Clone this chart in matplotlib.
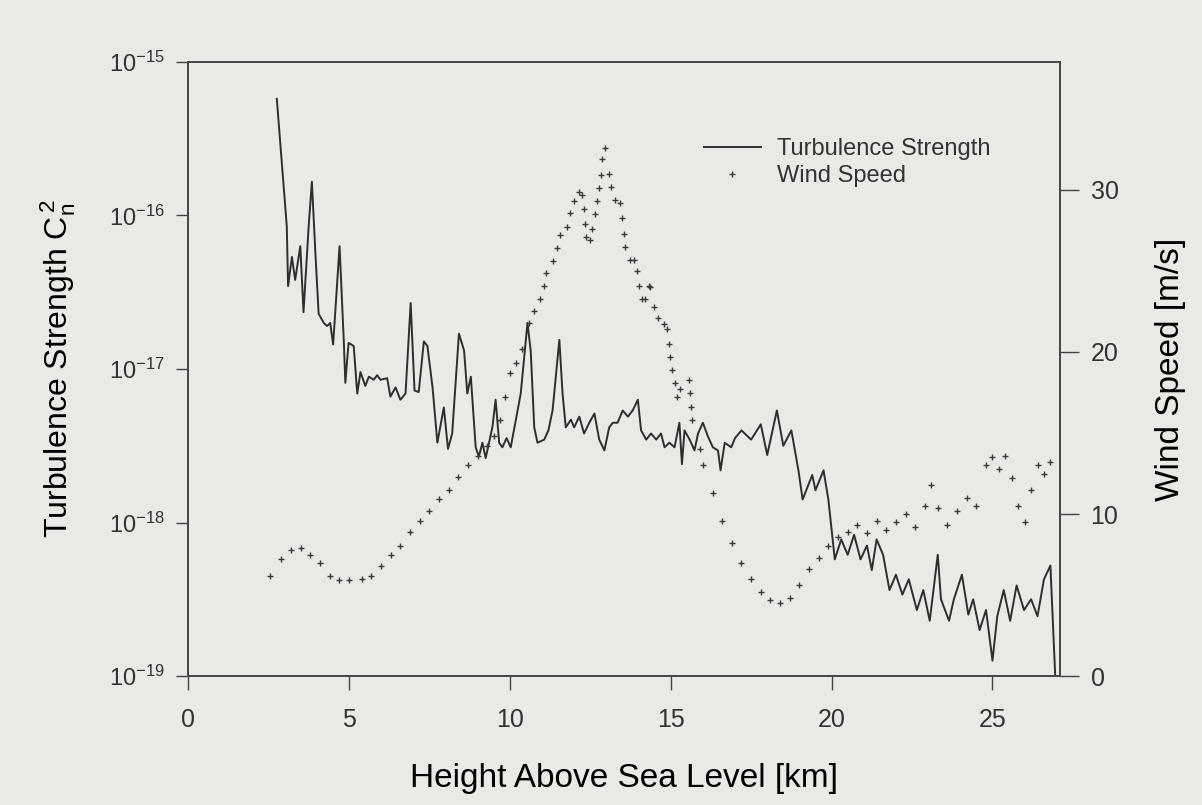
import matplotlib
matplotlib.use("Agg")
import matplotlib.pyplot as plt
import numpy as np

plt.rcParams.update({
    "font.family": ["Liberation Sans", "DejaVu Sans"],
    "mathtext.fontset": "custom",
    "mathtext.rm": "Liberation Sans",
    "mathtext.it": "Liberation Sans:italic",
    "text.color": "#333333",
    "axes.edgecolor": "#444444",
    "xtick.color": "#444444",
    "ytick.color": "#444444",
    "xtick.labelcolor": "#333333",
    "ytick.labelcolor": "#333333",
})

# turbulence profile: height [km] and log10(Cn^2)
turb_km = [2.76, 3.07, 3.11, 3.23, 3.33, 3.49, 3.59, 3.75, 3.85, 3.96, 4.06, 4.22, 4.32, 4.42,
           4.51, 4.71, 4.84, 4.89, 4.99, 5.15, 5.26, 5.36, 5.51, 5.62, 5.77, 5.88, 5.98, 6.19,
           6.29, 6.45, 6.6, 6.76, 6.92, 7.04, 7.17, 7.33, 7.44, 7.6, 7.75, 7.95, 8.08, 8.21,
           8.42, 8.58, 8.68, 8.79, 8.94, 9.04, 9.15, 9.25, 9.46, 9.56, 9.67, 9.77, 9.9, 10.03,
           10.19, 10.34, 10.55, 10.65, 10.76, 10.86, 11.07, 11.2, 11.33, 11.54, 11.64, 11.74,
           11.9, 12.0, 12.16, 12.31, 12.47, 12.63, 12.78, 12.94, 13.09, 13.2, 13.35, 13.51,
           13.67, 13.82, 13.98, 14.08, 14.24, 14.39, 14.55, 14.7, 14.81, 14.96, 15.12, 15.27,
           15.35, 15.43, 15.59, 15.74, 15.85, 16.0, 16.16, 16.31, 16.47, 16.55, 16.68, 16.88,
           17.0, 17.2, 17.5, 17.8, 18.0, 18.3, 18.5, 18.75, 18.97, 19.1, 19.4, 19.5, 19.75,
           19.9, 20.1, 20.3, 20.5, 20.7, 20.9, 21.1, 21.25, 21.4, 21.6, 21.8, 22.0, 22.2, 22.4,
           22.65, 22.85, 23.05, 23.3, 23.4, 23.65, 23.8, 24.05, 24.25, 24.4, 24.6, 24.8, 25.0,
           25.15, 25.35, 25.55, 25.75, 25.98, 26.2, 26.4, 26.6, 26.8, 26.95]
turb_log = [-15.24, -16.07, -16.46, -16.27, -16.42, -16.20, -16.63, -16.07, -15.78, -16.25,
            -16.64, -16.70, -16.72, -16.70, -16.84, -16.20, -16.81, -17.09, -16.83, -16.85,
            -17.16, -17.02, -17.11, -17.05, -17.07, -17.04, -17.07, -17.06, -17.18, -17.12,
            -17.2, -17.16, -16.57, -17.14, -17.15, -16.82, -16.85, -17.12, -17.48, -17.25,
            -17.52, -17.42, -16.77, -16.88, -17.16, -17.05, -17.51, -17.57, -17.48, -17.58,
            -17.38, -17.20, -17.48, -17.51, -17.45, -17.51, -17.33, -17.16, -16.70, -16.88,
            -17.38, -17.48, -17.46, -17.40, -17.27, -16.81, -17.16, -17.38, -17.33, -17.38,
            -17.31, -17.42, -17.35, -17.29, -17.46, -17.53, -17.38, -17.35, -17.35, -17.27,
            -17.31, -17.27, -17.20, -17.40, -17.46, -17.42, -17.46, -17.42, -17.51, -17.48,
            -17.51, -17.35, -17.62, -17.40, -17.46, -17.53, -17.42, -17.35, -17.44, -17.51,
            -17.53, -17.66, -17.48, -17.51, -17.45, -17.40, -17.46, -17.36, -17.56, -17.27,
            -17.50, -17.40, -17.66, -17.85, -17.69, -17.79, -17.66, -17.85, -18.24, -18.11,
            -18.21, -18.08, -18.24, -18.15, -18.31, -18.11, -18.21, -18.44, -18.34, -18.47,
            -18.37, -18.57, -18.44, -18.64, -18.21, -18.50, -18.64, -18.50, -18.34, -18.60,
            -18.50, -18.70, -18.57, -18.90, -18.61, -18.44, -18.64, -18.41, -18.57, -18.50,
            -18.61, -18.37, -18.28, -19.0]

# wind speed profile: height [km] and speed [m/s]
wind_km = [2.55, 2.9, 3.2, 3.5, 3.8, 4.1, 4.4, 4.7, 5.0, 5.4, 5.7, 6.0, 6.3, 6.6, 6.9, 7.2,
           7.5, 7.8, 8.1, 8.4, 8.7, 9.0, 9.3, 9.5, 9.7, 9.85, 10.02, 10.2, 10.38, 10.59,
           10.75, 10.95, 11.06, 11.11, 11.33, 11.47, 11.57, 11.78, 11.88, 11.99, 12.14,
           12.23, 12.3, 12.35, 12.37, 12.5, 12.56, 12.64, 12.71, 12.76, 12.82, 12.87, 12.95,
           13.07, 13.13, 13.28, 13.44, 13.49, 13.54, 13.59, 13.75, 13.85, 13.95, 14.03,
           14.11, 14.21, 14.32, 14.37, 14.47, 14.61, 14.78, 14.89, 14.94, 14.99, 15.04,
           15.12, 15.2, 15.3, 15.56, 15.61, 15.63, 15.66, 15.9, 16.0, 16.3, 16.6, 16.9,
           17.2, 17.5, 17.8, 18.1, 18.4, 18.7, 19.0, 19.3, 19.6, 19.9, 20.2, 20.5, 20.8,
           21.1, 21.4, 21.7, 22.0, 22.3, 22.6, 22.9, 23.1, 23.3, 23.6, 23.9, 24.2, 24.5,
           24.8, 25.0, 25.2, 25.4, 25.6, 25.8, 26.0, 26.2, 26.4, 26.6, 26.8]
wind_ms = [6.2, 7.2, 7.8, 7.9, 7.5, 7.0, 6.2, 5.9, 5.9, 6.0, 6.2, 6.8, 7.5, 8.0, 8.9, 9.6,
           10.2, 10.9, 11.5, 12.3, 13.0, 13.6, 14.2, 14.8, 15.8, 17.2, 18.7, 19.3, 20.2, 21.8,
           22.5, 23.3, 24.1, 24.9, 25.6, 26.4, 27.2, 27.7, 28.6, 29.3, 29.9, 29.7, 28.8, 27.9,
           27.1, 26.9, 27.6, 28.5, 29.3, 30.1, 30.9, 31.9, 32.6, 31.0, 30.2, 29.4, 29.2, 28.3,
           27.3, 26.5, 25.7, 25.7, 25.0, 24.1, 23.3, 23.3, 24.1, 24.0, 22.8, 22.1, 21.7, 21.4,
           20.5, 19.7, 18.9, 18.1, 17.2, 17.7, 18.3, 17.5, 16.6, 15.8, 14.0, 13.0, 11.3, 9.6,
           8.2, 7.0, 6.0, 5.2, 4.7, 4.5, 4.8, 5.6, 6.6, 7.3, 8.0, 8.6, 8.9, 9.3, 8.8, 9.6,
           9.0, 9.5, 10.0, 9.2, 10.5, 11.8, 10.4, 9.3, 10.2, 11.0, 10.5, 13.0, 13.5, 12.8,
           13.6, 12.2, 10.5, 9.5, 11.5, 13.0, 12.5, 13.2]

bg = "#ebe9e6"
fig = plt.figure(figsize=(12.02, 8.05), dpi=100, facecolor=bg)
ax = fig.add_axes([0.1564, 0.1602, 0.7255, 0.7628])
ax.set_facecolor(bg)

turb = np.power(10.0, np.array(turb_log))
ln1, = ax.plot(turb_km, turb, color="#2e2e2e", lw=1.4, label="Turbulence Strength")
ax.set_yscale("log")
ax.set_ylim(1e-19, 1e-15)
ax.set_xlim(0, 27.1)
ax.set_xticks([0, 5, 10, 15, 20, 25])
ax.set_yticks([1e-19, 1e-18, 1e-17, 1e-16, 1e-15])
ax.minorticks_off()
ax.tick_params(axis="y", direction="out", length=9, width=1, labelsize=17, pad=8)
ax.tick_params(axis="x", direction="out", length=10, width=1, labelsize=18, pad=13)
ax.tick_params(top=False)
ax.set_xlabel("Height Above Sea Level [km]", fontsize=24, labelpad=22)
ax.set_ylabel(r"Turbulence Strength $\mathregular{C_n^{\,2}}$", fontsize=23, labelpad=22)

ax2 = ax.twinx()
ln2, = ax2.plot(wind_km, wind_ms, linestyle="none", marker="+", ms=4, mew=1.0,
                color="#3a3a3a", label="Wind Speed")
ax2.set_ylim(0, 37.9)
ax2.set_yticks([0, 10, 20, 30])
ax2.tick_params(axis="y", direction="out", length=14, width=1, labelsize=18, pad=8)
ax2.set_ylabel("Wind Speed [m/s]", fontsize=24, labelpad=26)

for a in (ax, ax2):
    for s in a.spines.values():
        s.set_linewidth(1.2)
        s.set_color("#444444")

leg = ax2.legend([ln1, ln2], ["Turbulence Strength", "Wind Speed"],
                 loc="upper right", bbox_to_anchor=(0.945, 0.91), frameon=False,
                 fontsize=17, handlelength=2.4, handletextpad=0.7, labelspacing=0.2,
                 markerscale=1.0)

fig.savefig("out.png", dpi=100, facecolor=bg)
